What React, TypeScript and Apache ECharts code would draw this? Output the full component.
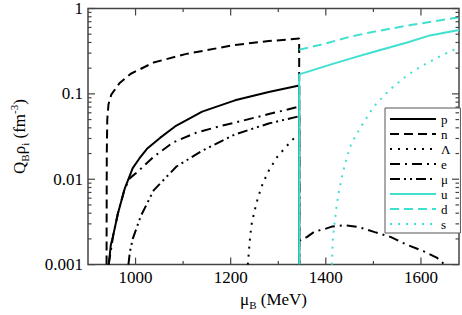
import React, { useEffect, useRef } from "react";
import * as echarts from "echarts";

const FONT = "'Liberation Serif', 'DejaVu Serif', serif";
const CYAN = "#40E0D0";

const seriesNames = ["p", "n", "Λ", "e", "μ", "u", "d", "s"];

// [mu_B (MeV), Q_B rho_i (fm^-3)]
const pData: [number, number][] = [
  [943.5, 0.001], [948, 0.0017], [953, 0.0022], [963, 0.004], [977, 0.0077],
  [994, 0.0135], [1008, 0.0175], [1024, 0.0227], [1052, 0.0307], [1083, 0.0415],
  [1140, 0.062], [1209, 0.084], [1280, 0.105], [1344, 0.125], [1344, 0.001],
];
const nData: [number, number][] = [
  [939, 0.001], [939.5, 0.02], [940.5, 0.05], [943, 0.075], [949, 0.098],
  [966, 0.133], [990, 0.172], [1038, 0.233], [1107, 0.294], [1209, 0.374],
  [1280, 0.415], [1344, 0.445], [1344, 0.001],
];
const lambdaData: [number, number][] = [
  [1236, 0.001], [1240, 0.00186], [1243.4, 0.00287], [1250, 0.00422], [1257, 0.006],
  [1267, 0.0088], [1281, 0.0129], [1298, 0.0183], [1315.5, 0.0237], [1336, 0.0315],
  [1344, 0.034], [1344, 0.001],
];
const eData: [number, number][] = [
  [943.5, 0.001], [953, 0.0022], [963, 0.004], [977, 0.0077], [988, 0.0103],
  [1004, 0.0122], [1038, 0.0183], [1079, 0.027], [1127, 0.035], [1175, 0.0415],
  [1209, 0.046], [1280, 0.058], [1344, 0.0708], [1344, 0.0019], [1360, 0.0021],
  [1377, 0.00245], [1397, 0.0026], [1414, 0.0028], [1440, 0.0029], [1469, 0.00275],
  [1503, 0.0024], [1537, 0.0021], [1571, 0.0017], [1605, 0.00144], [1633, 0.00121],
  [1650, 0.001],
];
const muData: [number, number][] = [
  [985, 0.001], [988, 0.0014], [994, 0.002], [1011, 0.0037], [1038, 0.0074],
  [1086, 0.0141], [1141, 0.0217], [1209, 0.0335], [1280, 0.045], [1344, 0.0547],
  [1344, 0.001],
];
const uData: [number, number][] = [
  [1344, 0.001], [1344, 0.169], [1413, 0.223], [1455, 0.262], [1496, 0.305],
  [1571, 0.4], [1619, 0.484], [1680, 0.561],
];
const dData: [number, number][] = [
  [1344, 0.33], [1370, 0.355], [1400, 0.39], [1450, 0.465], [1490, 0.52],
  [1578, 0.64], [1680, 0.79],
];
const sData: [number, number][] = [
  [1413, 0.001], [1414.3, 0.00186], [1417.8, 0.00287], [1422.6, 0.0048], [1428, 0.0074],
  [1435, 0.0114], [1441.7, 0.016], [1448.6, 0.0217], [1454, 0.0265], [1476, 0.043],
  [1500, 0.07], [1520, 0.0925], [1540, 0.119], [1571, 0.165], [1605, 0.217],
  [1643, 0.281], [1670, 0.329], [1680, 0.345],
];

const xMajorTicks = [1000, 1200, 1400, 1600];
const xMinorTicks = [1100, 1300, 1500];
const yMajorTicks = [0.001, 0.01, 0.1, 1];
const yMinorTicks = [
  0.002, 0.003, 0.004, 0.005, 0.006, 0.007, 0.008, 0.009,
  0.02, 0.03, 0.04, 0.05, 0.06, 0.07, 0.08, 0.09,
  0.2, 0.3, 0.4, 0.5, 0.6, 0.7, 0.8, 0.9,
];
const X_MIN = 900;
const X_MAX = 1680;
const Y_MIN = 0.001;
const Y_MAX = 1;

export default function App() {
  const ref = useRef<HTMLDivElement>(null);

  useEffect(() => {
    if (!ref.current) return;
    const chart = echarts.init(ref.current, undefined, { renderer: "svg" });

    const tickData: number[][] = [
      ...xMajorTicks.map((v) => [v, Y_MIN, 0]),
      ...xMinorTicks.map((v) => [v, Y_MIN, 1]),
      ...yMajorTicks.map((v) => [X_MIN, v, 2]),
      ...yMinorTicks.map((v) => [X_MIN, v, 3]),
    ];

    const mkLine = (name: string, data: [number, number][], color: string, type: any) => ({
      name,
      type: "line",
      data,
      symbol: "none",
      showSymbol: false,
      lineStyle: { color, width: 2, type, cap: "butt" },
      itemStyle: { color },
      z: 3,
    });

    const option: any = {
      animation: false,
      grid: {
        left: 79.5,
        top: 7,
        right: 2.5,
        bottom: 41.5,
        show: true,
        borderColor: "#444",
        borderWidth: 1.5,
        backgroundColor: "transparent",
      },
      legend: {
        orient: "vertical",
        left: 385,
        top: 108,
        data: seriesNames,
        itemWidth: 46,
        itemHeight: 14,
        itemGap: 1,
        padding: [4, 10, 2, 4],
        borderColor: "#555",
        borderWidth: 1,
        backgroundColor: "#fff",
        selectedMode: false,
        itemStyle: { opacity: 0, borderWidth: 0 },
        textStyle: { fontFamily: FONT, fontSize: 13, color: "#000", lineHeight: 14 },
      },
      xAxis: {
        type: "value",
        min: X_MIN,
        max: X_MAX,
        interval: 100,
        splitLine: { show: false },
        axisLine: { show: false },
        axisTick: { show: false },
        axisLabel: {
          margin: 4,
          fontFamily: FONT,
          fontSize: 17,
          color: "#000",
          formatter: (v: number) => (v % 200 === 0 ? String(v) : ""),
        },
        name: "{n|μ}{sub|B}{n| (MeV)}",
        nameLocation: "middle",
        nameGap: 19,
        nameTextStyle: {
          rich: {
            n: { fontFamily: FONT, fontSize: 17, color: "#000", lineHeight: 22, verticalAlign: "middle" },
            sub: { fontFamily: FONT, fontSize: 11, color: "#000", lineHeight: 12, verticalAlign: "bottom" },
          },
        },
      },
      yAxis: {
        type: "log",
        logBase: 10,
        min: Y_MIN,
        max: Y_MAX,
        splitLine: { show: false },
        axisLine: { show: false },
        axisTick: { show: false },
        minorTick: { show: false },
        axisLabel: {
          margin: 5,
          fontFamily: FONT,
          fontSize: 17,
          color: "#000",
          formatter: (v: number) => String(+Number(v).toPrecision(3)),
        },
        name: "{n|Q}{sub|B}{n|ρ}{sub|i}{n| (fm}{sup|-3}{n|)}",
        nameLocation: "middle",
        nameRotate: 90,
        nameGap: 58,
        nameTextStyle: {
          rich: {
            n: { fontFamily: FONT, fontSize: 17, color: "#000", lineHeight: 22, verticalAlign: "middle" },
            sub: { fontFamily: FONT, fontSize: 11, color: "#000", lineHeight: 12, verticalAlign: "bottom" },
            sup: { fontFamily: FONT, fontSize: 11, color: "#000", lineHeight: 12, verticalAlign: "top" },
          },
        },
      },
      series: [
        mkLine("p", pData, "#000", "solid"),
        mkLine("n", nData, "#000", [9, 5]),
        mkLine("Λ", lambdaData, "#000", [2, 6]),
        mkLine("e", eData, "#000", [10, 5, 2, 5]),
        mkLine("μ", muData, "#000", [10, 4, 2, 4, 2, 4]),
        mkLine("u", uData, CYAN, "solid"),
        mkLine("d", dData, CYAN, [9, 5]),
        mkLine("s", sData, CYAN, [2, 6]),
        {
          type: "custom",
          silent: true,
          clip: false,
          z: 5,
          data: tickData,
          renderItem: (params: any, api: any) => {
            const cs = params.coordSys;
            const kind = api.value(2);
            const style = { stroke: "#444", lineWidth: 1.2 };
            if (kind === 0 || kind === 1) {
              const px = api.coord([api.value(0), Y_MIN])[0];
              const len = kind === 0 ? 7 : 3.5;
              const yb = cs.y + cs.height;
              return {
                type: "group",
                children: [
                  { type: "line", shape: { x1: px, y1: yb, x2: px, y2: yb - len }, style },
                  { type: "line", shape: { x1: px, y1: cs.y, x2: px, y2: cs.y + len }, style },
                ],
              };
            }
            const py = api.coord([X_MIN, api.value(1)])[1];
            const len = kind === 2 ? 7 : 3.5;
            const xr = cs.x + cs.width;
            return {
              type: "group",
              children: [
                { type: "line", shape: { x1: cs.x, y1: py, x2: cs.x + len, y2: py }, style },
                { type: "line", shape: { x1: xr, y1: py, x2: xr - len, y2: py }, style },
              ],
            };
          },
        },
      ],
    };

    chart.setOption(option);
    return () => chart.dispose();
  }, []);

  return (
    <div
      ref={ref}
      style={{ position: "fixed", left: 0, top: 0, width: 462, height: 315, background: "#fff" }}
    />
  );
}
